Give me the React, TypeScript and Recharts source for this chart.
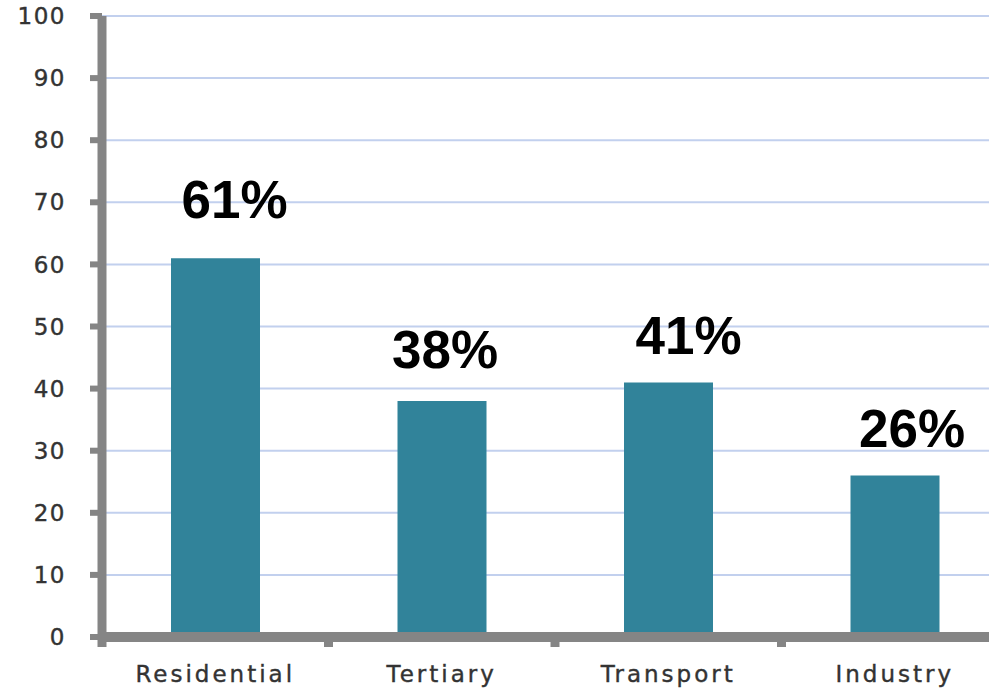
import { BarChart, Bar, XAxis, YAxis, CartesianGrid, LabelList } from 'recharts';

const CATEGORIES = ['Residential', 'Tertiary', 'Transport', 'Industry'];
const SHARES = [61, 38, 41, 26];
const Y_TICKS = [0, 10, 20, 30, 40, 50, 60, 70, 80, 90, 100];

// placement nudges for the big percent labels (relative to bar top-centre)
const LABEL_NUDGE = [
  { dx: 19, dy: -40 },
  { dx: 3, dy: -33 },
  { dx: 20, dy: -28 },
  { dx: 17, dy: -29 },
];

const data = CATEGORIES.map((name, i) => ({ name, share: SHARES[i] }));

const AXIS_GRAY = '#858585';
const TICK_FONT = '"DejaVu Sans", Verdana, sans-serif';
const TICK_COLOR = '#333333';

function PercentLabel(props: any) {
  const vb = props.viewBox || {};
  const x = props.x ?? vb.x;
  const y = props.y ?? vb.y;
  const width = props.width ?? vb.width;
  let idx = props.index;
  if (idx == null) idx = SHARES.indexOf(Number(props.value));
  const n = LABEL_NUDGE[idx] || { dx: 0, dy: -30 };
  return (
    <text
      x={x + width / 2 + n.dx}
      y={y + n.dy}
      textAnchor="middle"
      fontFamily='"Liberation Sans", Arial, sans-serif'
      fontWeight="bold"
      fontSize={53}
      fill="#000"
    >
      {props.value}%
    </text>
  );
}

function CategoryTick(props: any) {
  const { x, y, payload } = props;
  const half = payload?.offset ?? 113;
  return (
    <g>
      <rect x={x - half - 4.5} y={y} width={9} height={10} fill={AXIS_GRAY} />
      <text
        x={x}
        y={y + 45}
        textAnchor="middle"
        fontFamily={TICK_FONT}
        fontSize={23}
        letterSpacing={3}
        fill={TICK_COLOR}
        stroke={TICK_COLOR}
        strokeWidth={0.4}
      >
        {payload.value}
      </text>
    </g>
  );
}

export default function App() {
  return (
    <div style={{ position: 'absolute', left: 0, top: 0, width: 989, height: 690, overflow: 'hidden', background: '#fff' }}>
      <BarChart
        width={1020}
        height={690}
        data={data}
        margin={{ top: 16, right: 12, left: 0, bottom: 13 }}
      >
        <CartesianGrid vertical={false} stroke="#C2D0EE" strokeWidth={2} />
        <XAxis
          dataKey="name"
          axisLine={{ stroke: AXIS_GRAY, strokeWidth: 10 }}
          tickLine={false}
          tickSize={0}
          tickMargin={0}
          height={40}
          interval={0}
          tick={<CategoryTick />}
        />
        <YAxis
          domain={[0, 100]}
          ticks={Y_TICKS}
          width={102}
          axisLine={{ stroke: AXIS_GRAY, strokeWidth: 9 }}
          tickLine={{ stroke: AXIS_GRAY, strokeWidth: 6 }}
          tickSize={12}
          tickMargin={24}
          tick={{ fontFamily: TICK_FONT, fontSize: 23, letterSpacing: 1.5, fill: TICK_COLOR, stroke: TICK_COLOR, strokeWidth: 0.4 }}
        />
        <Bar dataKey="share" fill="#31839A" barSize={89} isAnimationActive={false}>
          <LabelList dataKey="share" content={<PercentLabel />} />
        </Bar>
      </BarChart>
    </div>
  );
}
